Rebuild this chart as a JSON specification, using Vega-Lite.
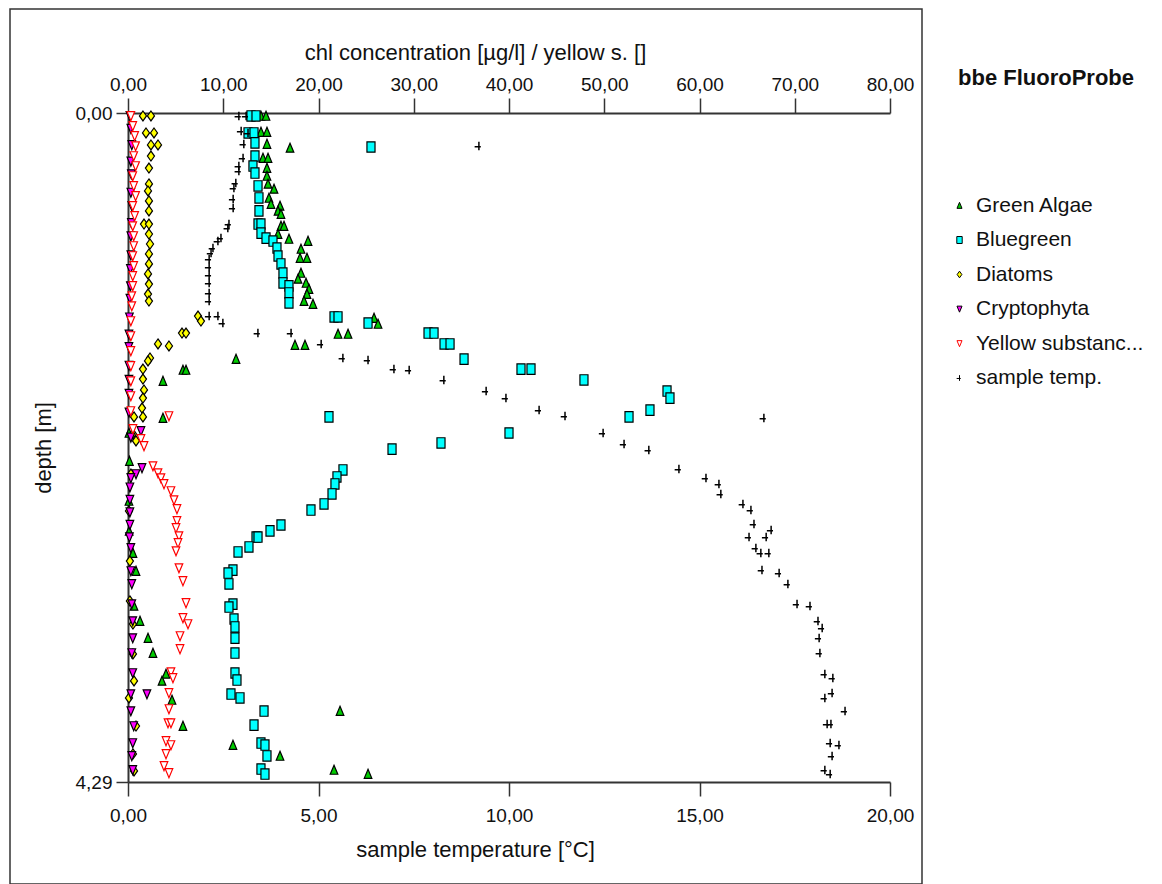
{
  "$schema": "https://vega.github.io/schema/vega-lite/v6.json",
  "padding": {"left": 9, "top": 8, "right": 0, "bottom": 0},
  "autosize": {"type": "pad"},
  "bounds": "flush",
  "spacing": 0,
  "config": {
    "view": {"stroke": "#333", "strokeWidth": 1.5},
    "font": "Liberation Sans",
    "axis": {"domainColor": "#333", "domainWidth": 2, "tickColor": "#333", "tickWidth": 1.5, "labelColor": "#111", "titleColor": "#111", "labelFont": "Liberation Sans", "labelFontSize": 19, "titleFont": "Liberation Sans", "titleFontSize": 22, "titleFontWeight": "normal", "grid": false, "labelFlush": false, "labelOverlap": false},
    "legend": {"orient": "none", "legendX": 939, "legendY": 186, "padding": 0, "rowPadding": 12.5, "labelFont": "Liberation Sans", "labelFontSize": 21, "labelColor": "#111", "symbolSize": 40, "symbolStrokeWidth": 1, "labelOffset": 6, "labelLimit": 300}
  },
  "datasets": {
    "chl": [
      {"series":"Green Algae","depth":0.019,"conc":13.96},{"series":"Green Algae","depth":0.019,"conc":14.49},{"series":"Green Algae","depth":0.122,"conc":13.96},{"series":"Green Algae","depth":0.122,"conc":14.59},{"series":"Green Algae","depth":0.199,"conc":14.59},{"series":"Green Algae","depth":0.224,"conc":17.01},{"series":"Green Algae","depth":0.289,"conc":14.17},{"series":"Green Algae","depth":0.289,"conc":14.7},{"series":"Green Algae","depth":0.353,"conc":14.59},{"series":"Green Algae","depth":0.404,"conc":14.59},{"series":"Green Algae","depth":0.455,"conc":14.7},{"series":"Green Algae","depth":0.487,"conc":15.33},{"series":"Green Algae","depth":0.545,"conc":14.8},{"series":"Green Algae","depth":0.584,"conc":15.01},{"series":"Green Algae","depth":0.596,"conc":15.96},{"series":"Green Algae","depth":0.628,"conc":15.75},{"series":"Green Algae","depth":0.648,"conc":16.06},{"series":"Green Algae","depth":0.725,"conc":16.06},{"series":"Green Algae","depth":0.725,"conc":16.38},{"series":"Green Algae","depth":0.776,"conc":15.75},{"series":"Green Algae","depth":0.808,"conc":16.9},{"series":"Green Algae","depth":0.821,"conc":18.9},{"series":"Green Algae","depth":0.872,"conc":18.16},{"series":"Green Algae","depth":0.93,"conc":18.06},{"series":"Green Algae","depth":0.93,"conc":18.79},{"series":"Green Algae","depth":1.026,"conc":18.16},{"series":"Green Algae","depth":1.064,"conc":17.85},{"series":"Green Algae","depth":1.09,"conc":18.69},{"series":"Green Algae","depth":1.129,"conc":19.0},{"series":"Green Algae","depth":1.161,"conc":18.79},{"series":"Green Algae","depth":1.206,"conc":18.48},{"series":"Green Algae","depth":1.225,"conc":19.42},{"series":"Green Algae","depth":1.315,"conc":25.83},{"series":"Green Algae","depth":1.353,"conc":26.25},{"series":"Green Algae","depth":1.417,"conc":22.05},{"series":"Green Algae","depth":1.417,"conc":23.1},{"series":"Green Algae","depth":1.488,"conc":17.53},{"series":"Green Algae","depth":1.488,"conc":18.58},{"series":"Green Algae","depth":1.578,"conc":11.34},{"series":"Green Algae","depth":1.648,"conc":5.77},{"series":"Green Algae","depth":1.648,"conc":6.09},{"series":"Green Algae","depth":1.719,"conc":3.67},{"series":"Green Algae","depth":1.956,"conc":3.67},{"series":"Green Algae","depth":2.052,"conc":0.1},{"series":"Green Algae","depth":2.232,"conc":0.15},{"series":"Green Algae","depth":2.488,"conc":0.1},{"series":"Green Algae","depth":2.68,"conc":0.12},{"series":"Green Algae","depth":2.822,"conc":0.52},{"series":"Green Algae","depth":2.937,"conc":0.84},{"series":"Green Algae","depth":3.161,"conc":0.63},{"series":"Green Algae","depth":3.258,"conc":1.26},{"series":"Green Algae","depth":3.367,"conc":2.1},{"series":"Green Algae","depth":3.463,"conc":2.62},{"series":"Green Algae","depth":3.597,"conc":3.99},{"series":"Green Algae","depth":3.642,"conc":3.57},{"series":"Green Algae","depth":3.764,"conc":4.62},{"series":"Green Algae","depth":3.835,"conc":22.26},{"series":"Green Algae","depth":3.931,"conc":5.77},{"series":"Green Algae","depth":4.053,"conc":11.02},{"series":"Green Algae","depth":4.123,"conc":15.96},{"series":"Green Algae","depth":4.213,"conc":21.63},{"series":"Green Algae","depth":4.239,"conc":25.2},
      {"series":"Bluegreen","depth":0.019,"conc":12.91},{"series":"Bluegreen","depth":0.019,"conc":13.44},{"series":"Bluegreen","depth":0.128,"conc":12.6},{"series":"Bluegreen","depth":0.128,"conc":13.23},{"series":"Bluegreen","depth":0.192,"conc":13.33},{"series":"Bluegreen","depth":0.218,"conc":25.51},{"series":"Bluegreen","depth":0.276,"conc":13.33},{"series":"Bluegreen","depth":0.34,"conc":13.12},{"series":"Bluegreen","depth":0.385,"conc":13.33},{"series":"Bluegreen","depth":0.468,"conc":13.65},{"series":"Bluegreen","depth":0.545,"conc":13.75},{"series":"Bluegreen","depth":0.628,"conc":13.75},{"series":"Bluegreen","depth":0.712,"conc":13.65},{"series":"Bluegreen","depth":0.712,"conc":13.96},{"series":"Bluegreen","depth":0.77,"conc":13.96},{"series":"Bluegreen","depth":0.802,"conc":14.49},{"series":"Bluegreen","depth":0.821,"conc":15.22},{"series":"Bluegreen","depth":0.866,"conc":15.64},{"series":"Bluegreen","depth":0.917,"conc":15.75},{"series":"Bluegreen","depth":0.968,"conc":16.06},{"series":"Bluegreen","depth":1.026,"conc":16.27},{"series":"Bluegreen","depth":1.09,"conc":16.27},{"series":"Bluegreen","depth":1.109,"conc":16.9},{"series":"Bluegreen","depth":1.154,"conc":16.9},{"series":"Bluegreen","depth":1.218,"conc":16.9},{"series":"Bluegreen","depth":1.308,"conc":21.63},{"series":"Bluegreen","depth":1.308,"conc":22.05},{"series":"Bluegreen","depth":1.347,"conc":25.2},{"series":"Bluegreen","depth":1.411,"conc":31.5},{"series":"Bluegreen","depth":1.411,"conc":32.13},{"series":"Bluegreen","depth":1.481,"conc":33.18},{"series":"Bluegreen","depth":1.481,"conc":33.81},{"series":"Bluegreen","depth":1.578,"conc":35.28},{"series":"Bluegreen","depth":1.642,"conc":41.26},{"series":"Bluegreen","depth":1.642,"conc":42.31},{"series":"Bluegreen","depth":1.712,"conc":47.87},{"series":"Bluegreen","depth":1.783,"conc":56.59},{"series":"Bluegreen","depth":1.828,"conc":56.9},{"series":"Bluegreen","depth":1.905,"conc":54.8},{"series":"Bluegreen","depth":1.949,"conc":52.6},{"series":"Bluegreen","depth":1.949,"conc":21.1},{"series":"Bluegreen","depth":2.052,"conc":40.0},{"series":"Bluegreen","depth":2.116,"conc":32.86},{"series":"Bluegreen","depth":2.155,"conc":27.72},{"series":"Bluegreen","depth":2.289,"conc":22.57},{"series":"Bluegreen","depth":2.334,"conc":21.94},{"series":"Bluegreen","depth":2.379,"conc":21.73},{"series":"Bluegreen","depth":2.443,"conc":21.42},{"series":"Bluegreen","depth":2.507,"conc":20.58},{"series":"Bluegreen","depth":2.546,"conc":19.21},{"series":"Bluegreen","depth":2.642,"conc":16.06},{"series":"Bluegreen","depth":2.68,"conc":14.91},{"series":"Bluegreen","depth":2.719,"conc":13.44},{"series":"Bluegreen","depth":2.719,"conc":13.65},{"series":"Bluegreen","depth":2.783,"conc":12.7},{"series":"Bluegreen","depth":2.815,"conc":11.55},{"series":"Bluegreen","depth":2.931,"conc":11.02},{"series":"Bluegreen","depth":2.95,"conc":10.5},{"series":"Bluegreen","depth":3.02,"conc":10.6},{"series":"Bluegreen","depth":3.149,"conc":11.02},{"series":"Bluegreen","depth":3.168,"conc":10.6},{"series":"Bluegreen","depth":3.245,"conc":11.13},{"series":"Bluegreen","depth":3.296,"conc":11.23},{"series":"Bluegreen","depth":3.367,"conc":11.23},{"series":"Bluegreen","depth":3.463,"conc":11.23},{"series":"Bluegreen","depth":3.591,"conc":11.23},{"series":"Bluegreen","depth":3.636,"conc":11.44},{"series":"Bluegreen","depth":3.726,"conc":10.81},{"series":"Bluegreen","depth":3.751,"conc":11.76},{"series":"Bluegreen","depth":3.835,"conc":14.28},{"series":"Bluegreen","depth":3.925,"conc":13.23},{"series":"Bluegreen","depth":4.04,"conc":13.96},{"series":"Bluegreen","depth":4.053,"conc":14.38},{"series":"Bluegreen","depth":4.123,"conc":14.59},{"series":"Bluegreen","depth":4.207,"conc":13.96},{"series":"Bluegreen","depth":4.239,"conc":14.38},
      {"series":"Diatoms","depth":0.019,"conc":1.57},{"series":"Diatoms","depth":0.019,"conc":2.41},{"series":"Diatoms","depth":0.128,"conc":1.89},{"series":"Diatoms","depth":0.128,"conc":2.73},{"series":"Diatoms","depth":0.205,"conc":2.41},{"series":"Diatoms","depth":0.205,"conc":3.15},{"series":"Diatoms","depth":0.276,"conc":2.41},{"series":"Diatoms","depth":0.353,"conc":2.2},{"series":"Diatoms","depth":0.455,"conc":2.2},{"series":"Diatoms","depth":0.5,"conc":2.1},{"series":"Diatoms","depth":0.564,"conc":2.2},{"series":"Diatoms","depth":0.628,"conc":2.2},{"series":"Diatoms","depth":0.712,"conc":1.68},{"series":"Diatoms","depth":0.712,"conc":2.2},{"series":"Diatoms","depth":0.776,"conc":2.2},{"series":"Diatoms","depth":0.84,"conc":2.31},{"series":"Diatoms","depth":0.904,"conc":2.2},{"series":"Diatoms","depth":0.968,"conc":2.2},{"series":"Diatoms","depth":1.032,"conc":2.1},{"series":"Diatoms","depth":1.097,"conc":2.2},{"series":"Diatoms","depth":1.161,"conc":2.1},{"series":"Diatoms","depth":1.206,"conc":2.2},{"series":"Diatoms","depth":1.302,"conc":7.35},{"series":"Diatoms","depth":1.334,"conc":7.66},{"series":"Diatoms","depth":1.411,"conc":5.67},{"series":"Diatoms","depth":1.411,"conc":6.09},{"series":"Diatoms","depth":1.481,"conc":3.15},{"series":"Diatoms","depth":1.494,"conc":4.3},{"series":"Diatoms","depth":1.571,"conc":2.31},{"series":"Diatoms","depth":1.59,"conc":2.1},{"series":"Diatoms","depth":1.642,"conc":1.57},{"series":"Diatoms","depth":1.706,"conc":1.57},{"series":"Diatoms","depth":1.776,"conc":1.68},{"series":"Diatoms","depth":1.828,"conc":1.57},{"series":"Diatoms","depth":1.892,"conc":1.47},{"series":"Diatoms","depth":1.949,"conc":0.63},{"series":"Diatoms","depth":1.949,"conc":1.57},{"series":"Diatoms","depth":2.058,"conc":0.52},{"series":"Diatoms","depth":2.103,"conc":0.84},{"series":"Diatoms","depth":2.315,"conc":0.31},{"series":"Diatoms","depth":2.552,"conc":0.1},{"series":"Diatoms","depth":2.873,"conc":0.2},{"series":"Diatoms","depth":3.129,"conc":0.2},{"series":"Diatoms","depth":3.277,"conc":0.52},{"series":"Diatoms","depth":3.469,"conc":0.52},{"series":"Diatoms","depth":3.642,"conc":0.63},{"series":"Diatoms","depth":3.751,"conc":0.1},{"series":"Diatoms","depth":3.931,"conc":0.84},{"series":"Diatoms","depth":4.11,"conc":0.52},{"series":"Diatoms","depth":4.219,"conc":0.63},
      {"series":"Cryptophyta","depth":0.019,"conc":0.2},{"series":"Cryptophyta","depth":0.1,"conc":0.3},{"series":"Cryptophyta","depth":0.205,"conc":0.4},{"series":"Cryptophyta","depth":0.31,"conc":0.3},{"series":"Cryptophyta","depth":0.392,"conc":0.35},{"series":"Cryptophyta","depth":0.51,"conc":0.3},{"series":"Cryptophyta","depth":0.596,"conc":0.4},{"series":"Cryptophyta","depth":0.705,"conc":0.35},{"series":"Cryptophyta","depth":0.79,"conc":0.3},{"series":"Cryptophyta","depth":0.912,"conc":0.3},{"series":"Cryptophyta","depth":1.0,"conc":0.25},{"series":"Cryptophyta","depth":1.11,"conc":0.25},{"series":"Cryptophyta","depth":1.19,"conc":0.2},{"series":"Cryptophyta","depth":1.31,"conc":0.15},{"series":"Cryptophyta","depth":1.42,"conc":0.1},{"series":"Cryptophyta","depth":1.5,"conc":0.1},{"series":"Cryptophyta","depth":1.62,"conc":0.1},{"series":"Cryptophyta","depth":1.71,"conc":0.1},{"series":"Cryptophyta","depth":1.8,"conc":0.1},{"series":"Cryptophyta","depth":1.92,"conc":0.1},{"series":"Cryptophyta","depth":2.039,"conc":1.36},{"series":"Cryptophyta","depth":2.08,"conc":0.3},{"series":"Cryptophyta","depth":2.276,"conc":1.47},{"series":"Cryptophyta","depth":2.315,"conc":0.84},{"series":"Cryptophyta","depth":2.34,"conc":0.3},{"series":"Cryptophyta","depth":2.4,"conc":0.2},{"series":"Cryptophyta","depth":2.48,"conc":0.2},{"series":"Cryptophyta","depth":2.56,"conc":0.2},{"series":"Cryptophyta","depth":2.64,"conc":0.2},{"series":"Cryptophyta","depth":2.72,"conc":0.15},{"series":"Cryptophyta","depth":2.789,"conc":0.3},{"series":"Cryptophyta","depth":2.937,"conc":0.3},{"series":"Cryptophyta","depth":3.02,"conc":0.4},{"series":"Cryptophyta","depth":3.149,"conc":0.4},{"series":"Cryptophyta","depth":3.258,"conc":0.5},{"series":"Cryptophyta","depth":3.367,"conc":0.5},{"series":"Cryptophyta","depth":3.463,"conc":0.4},{"series":"Cryptophyta","depth":3.591,"conc":0.5},{"series":"Cryptophyta","depth":3.726,"conc":1.99},{"series":"Cryptophyta","depth":3.726,"conc":0.3},{"series":"Cryptophyta","depth":3.835,"conc":0.3},{"series":"Cryptophyta","depth":3.931,"conc":0.6},{"series":"Cryptophyta","depth":4.04,"conc":0.5},{"series":"Cryptophyta","depth":4.123,"conc":0.4},{"series":"Cryptophyta","depth":4.213,"conc":0.5},
      {"series":"Yellow substances","depth":0.019,"conc":0.3},{"series":"Yellow substances","depth":0.083,"conc":0.5},{"series":"Yellow substances","depth":0.147,"conc":0.7},{"series":"Yellow substances","depth":0.212,"conc":0.8},{"series":"Yellow substances","depth":0.276,"conc":0.6},{"series":"Yellow substances","depth":0.34,"conc":0.8},{"series":"Yellow substances","depth":0.404,"conc":0.5},{"series":"Yellow substances","depth":0.468,"conc":0.6},{"series":"Yellow substances","depth":0.532,"conc":0.8},{"series":"Yellow substances","depth":0.596,"conc":0.5},{"series":"Yellow substances","depth":0.66,"conc":0.7},{"series":"Yellow substances","depth":0.725,"conc":0.5},{"series":"Yellow substances","depth":0.789,"conc":0.6},{"series":"Yellow substances","depth":0.853,"conc":0.6},{"series":"Yellow substances","depth":0.917,"conc":0.5},{"series":"Yellow substances","depth":0.981,"conc":0.6},{"series":"Yellow substances","depth":1.045,"conc":0.5},{"series":"Yellow substances","depth":1.109,"conc":0.5},{"series":"Yellow substances","depth":1.174,"conc":0.4},{"series":"Yellow substances","depth":1.238,"conc":0.4},{"series":"Yellow substances","depth":1.334,"conc":0.3},{"series":"Yellow substances","depth":1.43,"conc":0.3},{"series":"Yellow substances","depth":1.526,"conc":0.3},{"series":"Yellow substances","depth":1.622,"conc":0.3},{"series":"Yellow substances","depth":1.719,"conc":0.3},{"series":"Yellow substances","depth":1.815,"conc":0.3},{"series":"Yellow substances","depth":1.911,"conc":0.3},{"series":"Yellow substances","depth":1.943,"conc":4.3},{"series":"Yellow substances","depth":2.026,"conc":0.52},{"series":"Yellow substances","depth":2.09,"conc":1.36},{"series":"Yellow substances","depth":2.135,"conc":1.68},{"series":"Yellow substances","depth":2.264,"conc":2.62},{"series":"Yellow substances","depth":2.309,"conc":3.15},{"series":"Yellow substances","depth":2.341,"conc":3.46},{"series":"Yellow substances","depth":2.379,"conc":3.78},{"series":"Yellow substances","depth":2.424,"conc":4.51},{"series":"Yellow substances","depth":2.482,"conc":4.83},{"series":"Yellow substances","depth":2.539,"conc":5.14},{"series":"Yellow substances","depth":2.616,"conc":5.14},{"series":"Yellow substances","depth":2.661,"conc":5.04},{"series":"Yellow substances","depth":2.713,"conc":5.35},{"series":"Yellow substances","depth":2.757,"conc":5.25},{"series":"Yellow substances","depth":2.809,"conc":5.04},{"series":"Yellow substances","depth":2.918,"conc":5.35},{"series":"Yellow substances","depth":3.001,"conc":5.77},{"series":"Yellow substances","depth":3.142,"conc":6.09},{"series":"Yellow substances","depth":3.238,"conc":5.77},{"series":"Yellow substances","depth":3.277,"conc":6.3},{"series":"Yellow substances","depth":3.354,"conc":5.46},{"series":"Yellow substances","depth":3.437,"conc":5.46},{"series":"Yellow substances","depth":3.585,"conc":4.51},{"series":"Yellow substances","depth":3.623,"conc":4.72},{"series":"Yellow substances","depth":3.719,"conc":4.3},{"series":"Yellow substances","depth":3.822,"conc":4.3},{"series":"Yellow substances","depth":3.912,"conc":4.2},{"series":"Yellow substances","depth":3.912,"conc":4.51},{"series":"Yellow substances","depth":4.027,"conc":3.99},{"series":"Yellow substances","depth":4.053,"conc":4.51},{"series":"Yellow substances","depth":4.11,"conc":3.99},{"series":"Yellow substances","depth":4.187,"conc":3.78},{"series":"Yellow substances","depth":4.232,"conc":4.3}
    ],
    "temp": [
      {"series":"sample temp.","depth":0.019,"temp":2.91},{"series":"sample temp.","depth":0.019,"temp":3.1},{"series":"sample temp.","depth":0.115,"temp":2.97},{"series":"sample temp.","depth":0.128,"temp":3.15},{"series":"sample temp.","depth":0.199,"temp":3.04},{"series":"sample temp.","depth":0.212,"temp":9.21},{"series":"sample temp.","depth":0.289,"temp":3.02},{"series":"sample temp.","depth":0.34,"temp":2.91},{"series":"sample temp.","depth":0.372,"temp":2.91},{"series":"sample temp.","depth":0.449,"temp":2.83},{"series":"sample temp.","depth":0.481,"temp":2.78},{"series":"sample temp.","depth":0.551,"temp":2.76},{"series":"sample temp.","depth":0.609,"temp":2.76},{"series":"sample temp.","depth":0.712,"temp":2.65},{"series":"sample temp.","depth":0.737,"temp":2.62},{"series":"sample temp.","depth":0.802,"temp":2.44},{"series":"sample temp.","depth":0.821,"temp":2.36},{"series":"sample temp.","depth":0.866,"temp":2.23},{"series":"sample temp.","depth":0.898,"temp":2.18},{"series":"sample temp.","depth":0.936,"temp":2.13},{"series":"sample temp.","depth":0.988,"temp":2.13},{"series":"sample temp.","depth":1.039,"temp":2.13},{"series":"sample temp.","depth":1.09,"temp":2.13},{"series":"sample temp.","depth":1.154,"temp":2.13},{"series":"sample temp.","depth":1.206,"temp":2.13},{"series":"sample temp.","depth":1.302,"temp":2.13},{"series":"sample temp.","depth":1.302,"temp":2.36},{"series":"sample temp.","depth":1.347,"temp":2.49},{"series":"sample temp.","depth":1.411,"temp":3.41},{"series":"sample temp.","depth":1.411,"temp":4.28},{"series":"sample temp.","depth":1.481,"temp":5.07},{"series":"sample temp.","depth":1.571,"temp":5.64},{"series":"sample temp.","depth":1.584,"temp":6.3},{"series":"sample temp.","depth":1.642,"temp":6.98},{"series":"sample temp.","depth":1.648,"temp":7.38},{"series":"sample temp.","depth":1.712,"temp":8.29},{"series":"sample temp.","depth":1.783,"temp":9.4},{"series":"sample temp.","depth":1.828,"temp":9.92},{"series":"sample temp.","depth":1.905,"temp":10.79},{"series":"sample temp.","depth":1.943,"temp":11.47},{"series":"sample temp.","depth":1.956,"temp":16.69},{"series":"sample temp.","depth":2.052,"temp":12.47},{"series":"sample temp.","depth":2.123,"temp":13.02},{"series":"sample temp.","depth":2.161,"temp":13.67},{"series":"sample temp.","depth":2.283,"temp":14.46},{"series":"sample temp.","depth":2.341,"temp":15.17},{"series":"sample temp.","depth":2.379,"temp":15.51},{"series":"sample temp.","depth":2.443,"temp":15.56},{"series":"sample temp.","depth":2.507,"temp":16.14},{"series":"sample temp.","depth":2.546,"temp":16.35},{"series":"sample temp.","depth":2.636,"temp":16.43},{"series":"sample temp.","depth":2.674,"temp":16.88},{"series":"sample temp.","depth":2.719,"temp":16.3},{"series":"sample temp.","depth":2.719,"temp":16.75},{"series":"sample temp.","depth":2.789,"temp":16.48},{"series":"sample temp.","depth":2.822,"temp":16.61},{"series":"sample temp.","depth":2.822,"temp":16.82},{"series":"sample temp.","depth":2.931,"temp":16.64},{"series":"sample temp.","depth":2.95,"temp":17.09},{"series":"sample temp.","depth":3.02,"temp":17.32},{"series":"sample temp.","depth":3.149,"temp":17.56},{"series":"sample temp.","depth":3.161,"temp":17.9},{"series":"sample temp.","depth":3.258,"temp":18.11},{"series":"sample temp.","depth":3.302,"temp":18.22},{"series":"sample temp.","depth":3.367,"temp":18.14},{"series":"sample temp.","depth":3.463,"temp":18.16},{"series":"sample temp.","depth":3.597,"temp":18.29},{"series":"sample temp.","depth":3.623,"temp":18.5},{"series":"sample temp.","depth":3.719,"temp":18.48},{"series":"sample temp.","depth":3.751,"temp":18.29},{"series":"sample temp.","depth":3.835,"temp":18.82},{"series":"sample temp.","depth":3.918,"temp":18.35},{"series":"sample temp.","depth":3.918,"temp":18.45},{"series":"sample temp.","depth":4.04,"temp":18.43},{"series":"sample temp.","depth":4.053,"temp":18.66},{"series":"sample temp.","depth":4.123,"temp":18.48},{"series":"sample temp.","depth":4.213,"temp":18.29},{"series":"sample temp.","depth":4.239,"temp":18.43}
    ],
    "heading": [{"label": "bbe FluoroProbe"}]
  },
  "hconcat": [
    {
      "width": 912,
      "height": 875,
      "resolve": {"scale": {"x": "independent"}, "axis": {"x": "independent"}},
      "layer": [
        {
          "data": {"name": "chl"},
          "mark": {"type": "point", "filled": true, "opacity": 1, "size": 90, "strokeWidth": 1.2},
          "encoding": {
            "x": {"field": "conc", "type": "quantitative",
              "scale": {"domain": [0, 80], "range": [118, 880], "nice": false, "zero": false},
              "axis": {"orient": "top", "offset": -104, "values": [0, 10, 20, 30, 40, 50, 60, 70, 80], "labelExpr": "replace(format(datum.value, '.2f'), '.', ',')", "tickSize": 15, "labelPadding": 4, "title": "chl concentration [µg/l] / yellow s. []", "titlePadding": 11, "titleX": 465}},
            "y": {"field": "depth", "type": "quantitative",
              "scale": {"domain": [0, 4.29], "range": [104, 773], "nice": false, "zero": false},
              "axis": {"orient": "left", "offset": -118, "values": [0, 4.29], "labelExpr": "replace(format(datum.value, '.2f'), '.', ',')", "tickSize": 12, "labelPadding": 4, "title": "depth [m]", "titlePadding": 20}},
            "shape": {"field": "series", "type": "nominal",
              "scale": {"domain": ["Green Algae", "Bluegreen", "Diatoms", "Cryptophyta", "Yellow substances", "sample temp."],
                "range": ["M0,-1L0.8,0.9L-0.8,0.9Z", "M-0.85,-1.1L0.85,-1.1L0.85,1.1L-0.85,1.1Z", "M0,-1.05L0.75,0L0,1.05L-0.75,0Z", "M-0.8,-0.9L0.8,-0.9L0,1Z", "M-0.8,-0.9L0.8,-0.9L0,1Z", "M-0.9,0.15L0.4,0.15M0,-0.9L0,0.9"]},
              "legend": {"title": null, "labelExpr": "datum.label == 'Yellow substances' ? 'Yellow substanc...' : datum.label"}},
            "fill": {"field": "series", "type": "nominal",
              "scale": {"domain": ["Green Algae", "Bluegreen", "Diatoms", "Cryptophyta", "Yellow substances", "sample temp."],
                "range": ["#00cc00", "#00ffff", "#ffff00", "#ff00ff", "#ffffff", "transparent"]},
              "legend": {"title": null, "labelExpr": "datum.label == 'Yellow substances' ? 'Yellow substanc...' : datum.label"}},
            "stroke": {"field": "series", "type": "nominal",
              "scale": {"domain": ["Green Algae", "Bluegreen", "Diatoms", "Cryptophyta", "Yellow substances", "sample temp."],
                "range": ["#000000", "#000000", "#000000", "#000000", "#ff0000", "#000000"]},
              "legend": {"title": null, "labelExpr": "datum.label == 'Yellow substances' ? 'Yellow substanc...' : datum.label"}}
          }
        },
        {
          "data": {"name": "temp"},
          "mark": {"type": "point", "filled": true, "opacity": 1, "size": 90, "strokeWidth": 1.5},
          "encoding": {
            "x": {"field": "temp", "type": "quantitative",
              "scale": {"domain": [0, 20], "range": [118, 880], "nice": false, "zero": false},
              "axis": {"orient": "bottom", "offset": -102, "values": [0, 5, 10, 15, 20], "labelExpr": "replace(format(datum.value, '.2f'), '.', ',')", "tickSize": 14, "labelPadding": 10, "title": "sample temperature [°C]", "titlePadding": 14, "titleX": 465}},
            "y": {"field": "depth", "type": "quantitative",
              "scale": {"domain": [0, 4.29], "range": [104, 773], "nice": false, "zero": false},
              "axis": {"orient": "left", "offset": -118, "values": [0, 4.29], "labelExpr": "replace(format(datum.value, '.2f'), '.', ',')", "tickSize": 12, "labelPadding": 4, "title": "depth [m]", "titlePadding": 20}},
            "shape": {"field": "series", "type": "nominal",
              "scale": {"domain": ["Green Algae", "Bluegreen", "Diatoms", "Cryptophyta", "Yellow substances", "sample temp."],
                "range": ["M0,-1L0.8,0.9L-0.8,0.9Z", "M-0.85,-1.1L0.85,-1.1L0.85,1.1L-0.85,1.1Z", "M0,-1.05L0.75,0L0,1.05L-0.75,0Z", "M-0.8,-0.9L0.8,-0.9L0,1Z", "M-0.8,-0.9L0.8,-0.9L0,1Z", "M-0.9,0.15L0.4,0.15M0,-0.9L0,0.9"]},
              "legend": {"title": null, "labelExpr": "datum.label == 'Yellow substances' ? 'Yellow substanc...' : datum.label"}},
            "fill": {"field": "series", "type": "nominal",
              "scale": {"domain": ["Green Algae", "Bluegreen", "Diatoms", "Cryptophyta", "Yellow substances", "sample temp."],
                "range": ["#00cc00", "#00ffff", "#ffff00", "#ff00ff", "#ffffff", "transparent"]},
              "legend": {"title": null, "labelExpr": "datum.label == 'Yellow substances' ? 'Yellow substanc...' : datum.label"}},
            "stroke": {"field": "series", "type": "nominal",
              "scale": {"domain": ["Green Algae", "Bluegreen", "Diatoms", "Cryptophyta", "Yellow substances", "sample temp."],
                "range": ["#000000", "#000000", "#000000", "#000000", "#ff0000", "#000000"]},
              "legend": {"title": null, "labelExpr": "datum.label == 'Yellow substances' ? 'Yellow substanc...' : datum.label"}}
          }
        }
      ]
    },
    {
      "bounds": "flush",
      "spacing": 0,
      "vconcat": [
        {
          "width": 240,
          "height": 137,
          "data": {"name": "heading"},
          "mark": {"type": "text", "font": "Liberation Sans", "fontWeight": "bold", "fontSize": 22, "color": "#111", "dx": 4},
          "encoding": {"text": {"field": "label", "type": "nominal"}}
        },
        {
          "width": 240,
          "height": 300,
          "data": {"name": "heading"},
          "mark": {"type": "text", "opacity": 0},
          "encoding": {"text": {"field": "label", "type": "nominal"}}
        }
      ]
    }
  ]
}
